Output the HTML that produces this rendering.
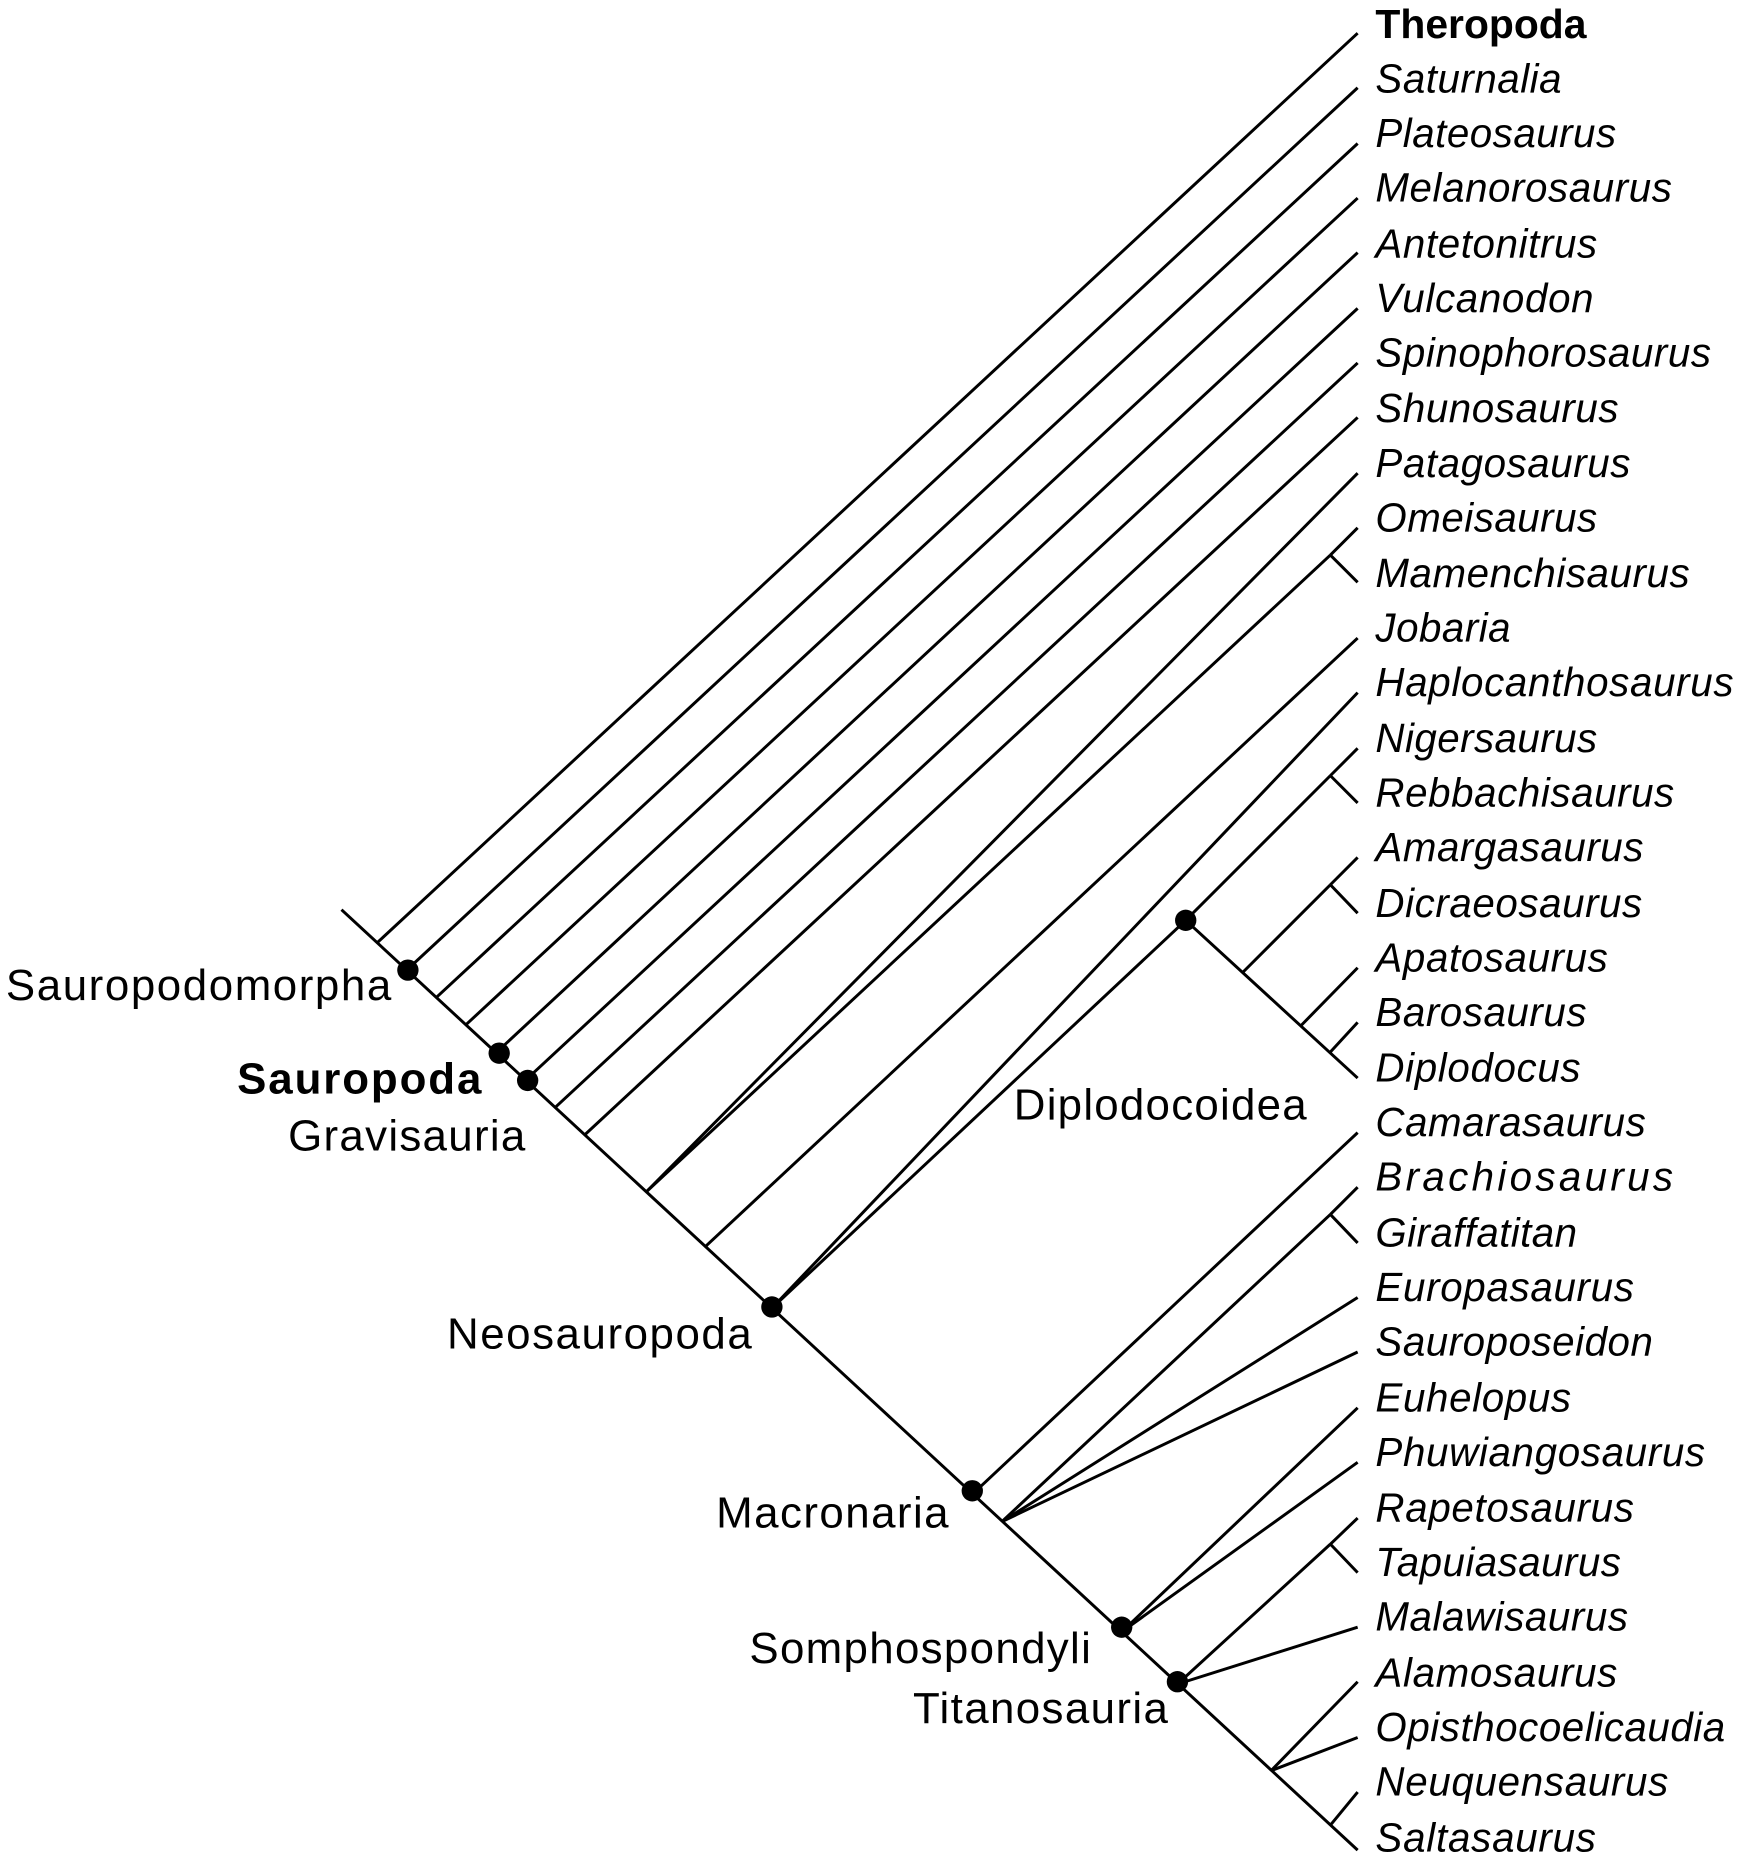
<!DOCTYPE html>
<html><head><meta charset="utf-8"><style>html,body{margin:0;padding:0;background:#fff}svg{display:block}</style></head>
<body>
<svg width="1743" height="1862" viewBox="0 0 1470 1570" preserveAspectRatio="none" xmlns="http://www.w3.org/2000/svg">
<g stroke="#000" stroke-width="2.5" fill="none" stroke-linecap="butt">
<line x1="288" y1="767" x2="1145" y2="1560"/>
<line x1="318" y1="795" x2="1145" y2="28"/>
<line x1="343" y1="818" x2="1145" y2="74"/>
<line x1="368" y1="841" x2="1145" y2="121"/>
<line x1="393" y1="864" x2="1145" y2="167"/>
<line x1="418" y1="888" x2="1145" y2="213"/>
<line x1="443" y1="911" x2="1145" y2="260"/>
<line x1="468" y1="934" x2="1145" y2="306"/>
<line x1="493" y1="957" x2="1145" y2="352"/>
<line x1="545" y1="1005" x2="1145" y2="399"/>
<line x1="545" y1="1005" x2="1122" y2="468"/>
<line x1="1122" y1="468" x2="1145" y2="445"/>
<line x1="1122" y1="468" x2="1145" y2="491"/>
<line x1="595" y1="1051" x2="1145" y2="538"/>
<line x1="651" y1="1103" x2="1145" y2="584"/>
<line x1="651" y1="1103" x2="1000" y2="776"/>
<line x1="1000" y1="776" x2="1145" y2="909"/>
<line x1="1000" y1="776" x2="1122" y2="654"/>
<line x1="1122" y1="654" x2="1145" y2="631"/>
<line x1="1122" y1="654" x2="1145" y2="677"/>
<line x1="1048" y1="820" x2="1122" y2="746"/>
<line x1="1122" y1="746" x2="1145" y2="723"/>
<line x1="1122" y1="746" x2="1145" y2="770"/>
<line x1="1097" y1="865" x2="1145" y2="816"/>
<line x1="1122" y1="887" x2="1145" y2="862"/>
<line x1="820" y1="1260" x2="1145" y2="955"/>
<line x1="845" y1="1283" x2="1122" y2="1024"/>
<line x1="1122" y1="1024" x2="1145" y2="1001"/>
<line x1="1122" y1="1024" x2="1145" y2="1048"/>
<line x1="845" y1="1283" x2="1145" y2="1094"/>
<line x1="845" y1="1283" x2="1145" y2="1140"/>
<line x1="946" y1="1376" x2="1145" y2="1187"/>
<line x1="946" y1="1376" x2="1145" y2="1233"/>
<line x1="993" y1="1420" x2="1122" y2="1302"/>
<line x1="1122" y1="1302" x2="1145" y2="1280"/>
<line x1="1122" y1="1302" x2="1145" y2="1326"/>
<line x1="993" y1="1420" x2="1145" y2="1372"/>
<line x1="1072" y1="1493" x2="1145" y2="1418"/>
<line x1="1072" y1="1493" x2="1145" y2="1465"/>
<line x1="1122" y1="1539" x2="1145" y2="1511"/>
</g>
<g fill="#000">
<circle cx="344" cy="818" r="9"/>
<circle cx="421" cy="888" r="9"/>
<circle cx="445" cy="911" r="9"/>
<circle cx="651" cy="1102" r="9"/>
<circle cx="1000" cy="776" r="9"/>
<circle cx="820" cy="1257" r="9"/>
<circle cx="946" cy="1372" r="9"/>
<circle cx="993" cy="1418" r="9"/>
</g>
<g font-family="'Liberation Sans', Arial, sans-serif" font-size="34" fill="#000">
<text x="1160" y="32" font-weight="bold" textLength="178" lengthAdjust="spacingAndGlyphs">Theropoda</text>
<g font-style="italic" lengthAdjust="spacingAndGlyphs">
<text x="1160" y="78" textLength="157">Saturnalia</text>
<text x="1160" y="124" textLength="203">Plateosaurus</text>
<text x="1160" y="170" textLength="250">Melanorosaurus</text>
<text x="1160" y="217" textLength="187">Antetonitrus</text>
<text x="1160" y="263" textLength="184">Vulcanodon</text>
<text x="1160" y="309" textLength="283">Spinophorosaurus</text>
<text x="1160" y="356" textLength="205">Shunosaurus</text>
<text x="1160" y="402" textLength="215">Patagosaurus</text>
<text x="1160" y="448" textLength="187">Omeisaurus</text>
<text x="1160" y="495" textLength="265">Mamenchisaurus</text>
<text x="1160" y="541" textLength="114">Jobaria</text>
<text x="1160" y="587" textLength="302">Haplocanthosaurus</text>
<text x="1160" y="634" textLength="187">Nigersaurus</text>
<text x="1160" y="680" textLength="252">Rebbachisaurus</text>
<text x="1160" y="726" textLength="226">Amargasaurus</text>
<text x="1160" y="773" textLength="225">Dicraeosaurus</text>
<text x="1160" y="819" textLength="196">Apatosaurus</text>
<text x="1160" y="865" textLength="178">Barosaurus</text>
<text x="1160" y="912" textLength="173">Diplodocus</text>
<text x="1160" y="958" textLength="228">Camarasaurus</text>
<text x="1160" y="1004" textLength="251">Brachiosaurus</text>
<text x="1160" y="1051" textLength="170">Giraffatitan</text>
<text x="1160" y="1097" textLength="218">Europasaurus</text>
<text x="1160" y="1143" textLength="234">Sauroposeidon</text>
<text x="1160" y="1190" textLength="165">Euhelopus</text>
<text x="1160" y="1236" textLength="278">Phuwiangosaurus</text>
<text x="1160" y="1283" textLength="218">Rapetosaurus</text>
<text x="1160" y="1329" textLength="207">Tapuiasaurus</text>
<text x="1160" y="1375" textLength="213">Malawisaurus</text>
<text x="1160" y="1422" textLength="204">Alamosaurus</text>
<text x="1160" y="1468" textLength="295">Opisthocoelicaudia</text>
<text x="1160" y="1514" textLength="247">Neuquensaurus</text>
<text x="1160" y="1561" textLength="186">Saltasaurus</text>
</g>
<g font-size="37" lengthAdjust="spacingAndGlyphs">
<text x="5" y="843" textLength="325">Sauropodomorpha</text>
<text x="200" y="922" font-weight="bold" textLength="206">Sauropoda</text>
<text x="243" y="970" textLength="200">Gravisauria</text>
<text x="855" y="944" textLength="247">Diplodocoidea</text>
<text x="377" y="1137" textLength="257">Neosauropoda</text>
<text x="604" y="1288" textLength="196">Macronaria</text>
<text x="632" y="1402" textLength="288">Somphospondyli</text>
<text x="770" y="1453" textLength="215">Titanosauria</text>
</g>
</g>
</svg>
</body></html>
